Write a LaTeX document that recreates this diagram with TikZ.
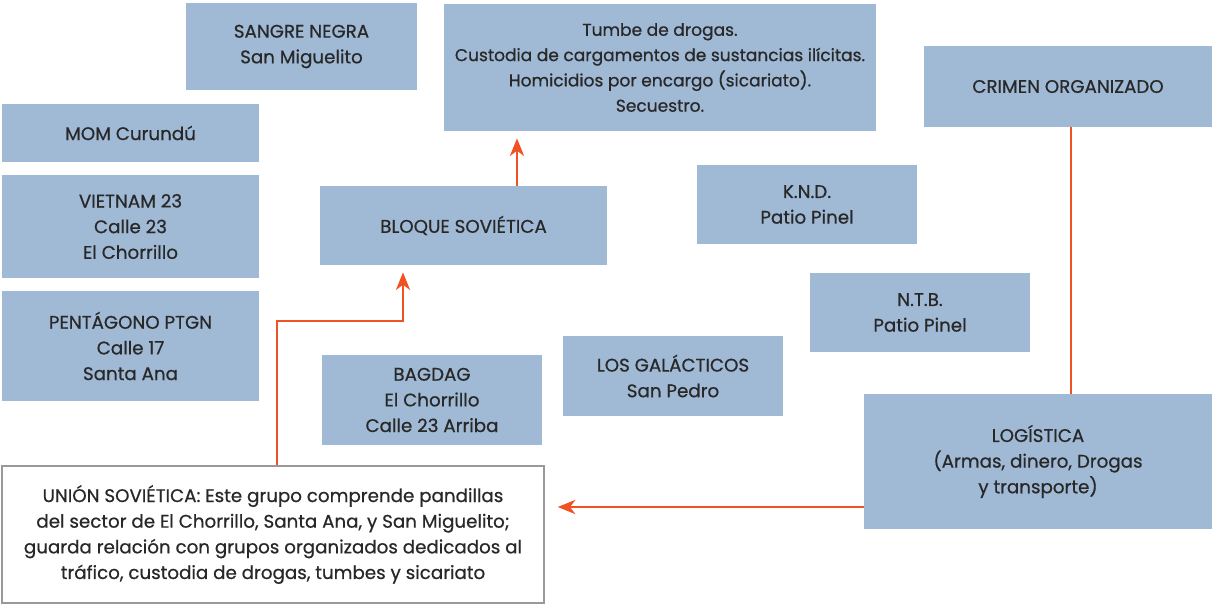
\documentclass[tikz,border=0pt]{standalone}
\usepackage{fontspec}
\setmainfont{Poppins}[FakeBold=0.6]
\usepackage{xcolor}
\usetikzlibrary{arrows.meta, positioning}
\definecolor{boxblue}{RGB}{160,185,212}
\definecolor{linkred}{RGB}{240,82,36}
\definecolor{textgray}{RGB}{40,40,40}

\begin{document}
\begin{tikzpicture}[x=0.02cm, y=-0.02cm, font=\fontsize{10.4}{14.6}\selectfont, text=textgray,
    g/.style 2 args={fill=boxblue, minimum width={#1*0.02cm}, minimum height={#2*0.02cm}, align=center, inner sep=0pt},
    note/.style={draw=gray!80, line width=0.8pt, fill=white, minimum width={542*0.02cm}, minimum height={137*0.02cm}, align=center, inner sep=0pt},
    arr/.style={-{Stealth[length=10pt, width=8pt, inset=3pt]}, linkred, line width=1.6pt},
    lnk/.style={linkred, line width=1.6pt}]
    \useasboundingbox (0,0) rectangle (1212,603);
    % gangs
    \node[g={231}{87}] (sangre) at (301.5,46.5) {SANGRE NEGRA\\San Miguelito};
    \node[g={257}{58}] (mom) at (130.5,133) {MOM Curundú};
    \node[g={257}{103}] (vietnam) at (130.5,226.5) {VIETNAM 23\\Calle 23\\El Chorrillo};
    \node[g={257}{110}] (pentagono) at (130.5,346) {PENTÁGONO PTGN\\Calle 17\\Santa Ana};
    \node[g={287}{79}] (bloque) at (463.5,225.5) {BLOQUE SOVIÉTICA};
    \node[g={220}{90}] (bagdag) at (432,400) {BAGDAG\\El Chorrillo\\Calle 23 Arriba};
    \node[g={220}{80}] (galacticos) at (673,376) {LOS GALÁCTICOS\\San Pedro};
    \node[g={220}{79}] (knd) at (807,204.5) {K.N.D.\\Patio Pinel};
    \node[g={220}{79}] (ntb) at (920,312.5) {N.T.B.\\Patio Pinel};
    % activities
    \node[g={432}{127}, font=\fontsize{9.7}{14.4}\selectfont] (tumbe) at (660,67.5) {Tumbe de drogas.\\Custodia de cargamentos de sustancias ilícitas.\\Homicidios por encargo (sicariato).\\Secuestro.};
    \node[g={288}{81}] (crimen) at (1068,86.5) {CRIMEN ORGANIZADO};
    \node[g={348}{135}] (logistica) at (1038,461.5) {LOGÍSTICA\\(Armas, dinero, Drogas\\y transporte)};
    \node[note] (union) at (273,534.5) {UNIÓN SOVIÉTICA: Este grupo comprende pandillas\\del sector de El Chorrillo, Santa Ana, y San Miguelito;\\guarda relación con grupos organizados dedicados al\\tráfico, custodia de drogas, tumbes y sicariato};
    % links
    \draw[arr] ([xshift=1.07cm]bloque.north) -- ([xshift=1.07cm, yshift=-0.14cm]bloque.north |- tumbe.south);
    \draw[arr] ([xshift=0.08cm]union.north) |- (403,321) -- ([yshift=-0.14cm]403,265 |- bloque.south);
    \draw[arr] ([yshift=-0.91cm]logistica.west) -- ([xshift=0.26cm, yshift=-0.91cm]union.east |- logistica.west);
    \draw[lnk] ([xshift=0.06cm]crimen.south) -- ([xshift=0.06cm]crimen.south |- logistica.north);
\end{tikzpicture}
\end{document}
